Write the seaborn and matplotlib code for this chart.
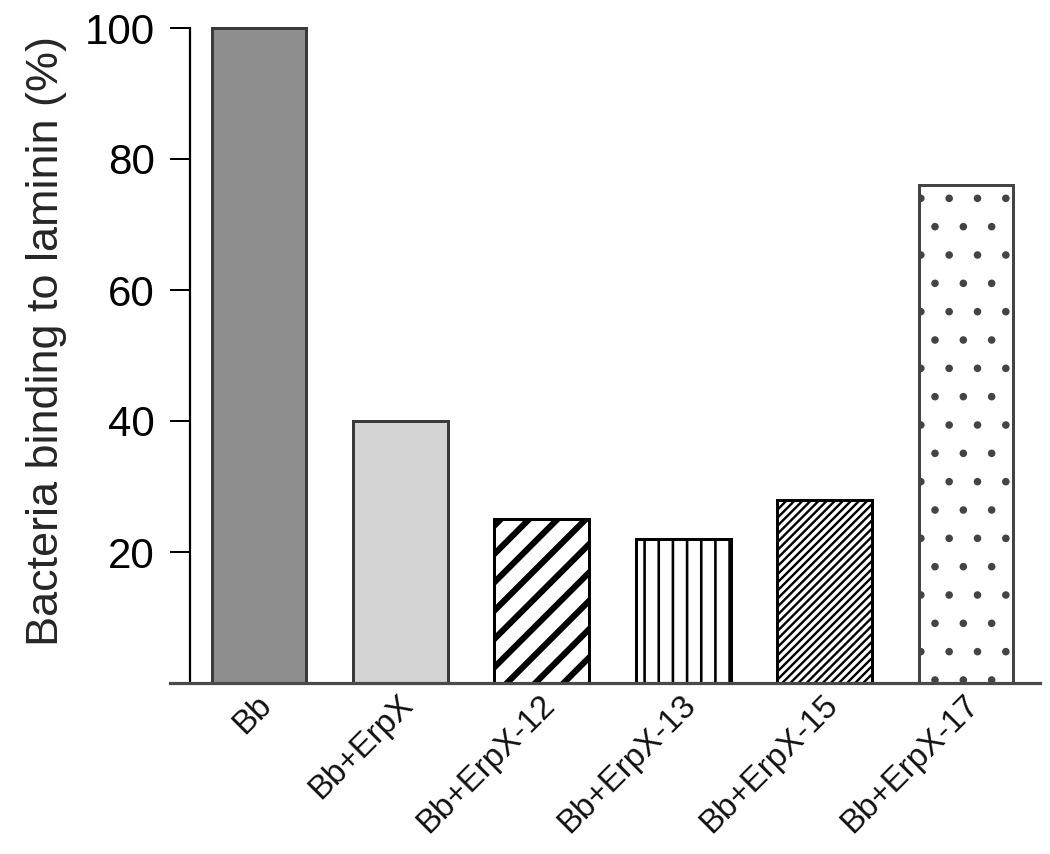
import matplotlib
matplotlib.use('Agg')
import matplotlib.pyplot as plt
import matplotlib.transforms as mtransforms
import seaborn as sns

# Data
groups = ['Bb', 'Bb+ErpX', 'Bb+ErpX-12', 'Bb+ErpX-13', 'Bb+ErpX-15', 'Bb+ErpX-17']
binding = [100, 40, 25, 22, 28, 76]
y_ticks = [20, 40, 60, 80, 100]

fills = ['#8e8e8e', '#d4d4d4', 'white', 'white', 'white', 'white']
edges = ['#3a3a3a', '#3a3a3a', 'black', 'black', 'black', '#444444']
hatches = [None, None, '//', '||', '///////', '.']
hatch_widths = [1.0, 1.0, 2.6, 1.1, 1.0, 0.8]

DPI = 170


def px(v):
    # pixel size -> points at the output dpi
    return v * 72.0 / DPI


sns.set_style('ticks')
plt.rcParams['font.family'] = ['Liberation Sans', 'DejaVu Sans']

fig = plt.figure(figsize=(1050 / DPI, 854 / DPI), dpi=DPI)
ax = fig.add_axes([170 / 1050, 1 - 683 / 854, 870 / 1050, 655 / 854])

sns.barplot(x=groups, y=binding, ax=ax, width=0.67, color='white',
            edgecolor='#333333', linewidth=px(3), saturation=1)

for bar, fc, ec, h, hw in zip(ax.patches, fills, edges, hatches, hatch_widths):
    bar.set_facecolor(fc)
    bar.set_edgecolor(ec)
    if h:
        bar.set_hatch(h)
        if hasattr(bar, 'set_hatch_linewidth'):
            bar.set_hatch_linewidth(px(hw * 2.36))
    bar.set_clip_on(False)

ax.set_xlim(-0.629, 5.523)
ax.set_ylim(0, 100)

ax.spines['top'].set_visible(False)
ax.spines['right'].set_visible(False)
ax.spines['left'].set_position(('data', -0.488))
ax.spines['left'].set_linewidth(px(2.2))
ax.spines['left'].set_color('black')
ax.spines['bottom'].set_linewidth(px(3.2))
ax.spines['bottom'].set_color('#4a4a4a')

ax.set_yticks(y_ticks)
ax.tick_params(axis='y', length=px(20), width=px(2), pad=px(15),
               labelsize=px(42), colors='black')
ax.tick_params(axis='x', length=0, pad=px(17), labelsize=px(33))

ax.set_ylabel('Bacteria binding to laminin (%)', fontsize=px(45))
ax.yaxis.set_label_coords(-0.118, 0.522)
ax.set_xlabel('')

shift = mtransforms.ScaledTranslation(px(8) / 72, 0, fig.dpi_scale_trans)
for lab in ax.get_xticklabels():
    lab.set_rotation(45)
    lab.set_ha('right')
    lab.set_va('center')
    lab.set_rotation_mode('anchor')
    lab.set_color('#111111')
    lab.set_transform(lab.get_transform() + shift)

fig.savefig('out.png', dpi=DPI, facecolor='white')
